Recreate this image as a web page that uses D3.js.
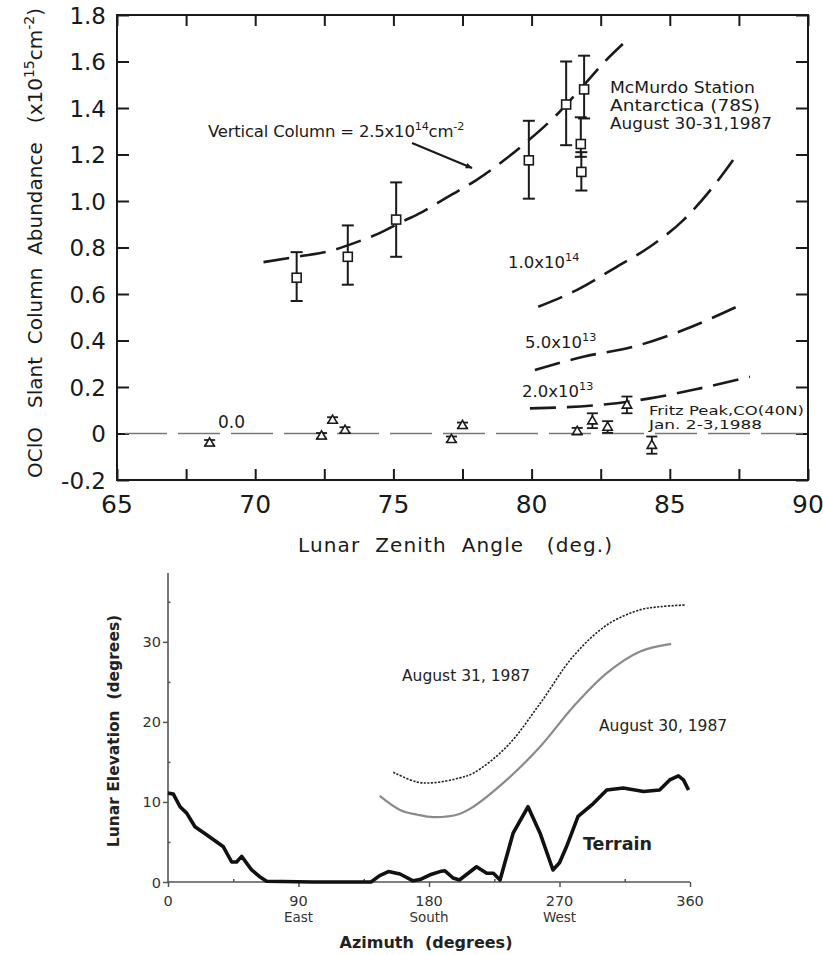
<!DOCTYPE html>
<html><head><meta charset="utf-8">
<script src="https://cdn.jsdelivr.net/npm/d3@7"></script>
<style>body{margin:0;background:#fff}svg{display:block}text{white-space:pre}</style>
</head><body>
<svg id="c" width="823" height="955"></svg>
<script>
// ---------- Top panel data ----------
const xTicksTop = [65,70,75,80,85,90];
const yTicksTop = [-0.2,0,0.2,0.4,0.6,0.8,1.0,1.2,1.4,1.6,1.8];
const yTickLabelsTop = ["-0.2","0","0.2","0.4","0.6","0.8","1.0","1.2","1.4","1.6","1.8"];
// McMurdo (squares)
const mcX  = [71.5,73.35,75.1,79.9,81.25,81.9,81.78,81.8];
const mcY  = [0.67,0.76,0.92,1.175,1.415,1.48,1.245,1.125];
const mcLo = [0.57,0.64,0.76,1.01,1.24,1.355,1.19,1.045];
const mcHi = [0.78,0.895,1.08,1.345,1.6,1.625,1.36,1.21];
// Fritz Peak (triangles)
const fpX  = [68.35,72.4,72.8,73.25,77.1,77.5,81.65,82.2,82.75,83.45,84.35];
const fpY  = [-0.04,-0.01,0.058,0.015,-0.025,0.035,0.01,0.055,0.028,0.123,-0.05];
const fpE  = [0.012,0.012,0.012,0.012,0.012,0.012,0.014,0.032,0.025,0.036,0.037];
// model curves
const vc25X = [70.3,71.5,72.7,73.6,74.5,75.3,76,77,78,79,79.9,80.9,81.9,82.7,83.3];
const vc25Y = [0.737,0.76,0.785,0.82,0.862,0.91,0.95,1.02,1.09,1.175,1.262,1.37,1.5,1.606,1.675];
const vc10X = [80.24,81.63,83.08,84.28,85.49,86.57,87.42];
const vc10Y = [0.545,0.617,0.717,0.803,0.918,1.062,1.198];
const vc5X  = [80.12,81.87,83.68,85.49,87.42];
const vc5Y  = [0.273,0.33,0.373,0.445,0.545];
const vc2X  = [79.94,82.47,84.28,86.09,87.9];
const vc2Y  = [0.108,0.123,0.151,0.194,0.244];
const vc0X  = [65,90];
const vc0Y  = [0,0];

// ---------- Bottom panel data ----------
const xTicksBot = [0,90,180,270,360];
const xDirBot = ["","East","South","West",""];
const yTicksBot = [0,10,20,30];
const terrainAz = [0,3.6,8.3,12.9,18.6,26.6,38.2,43.9,47.3,50.8,57.7,63,68,100,140,146,152,160,169,173.8,180.7,187.6,191,196.6,201,212.8,219.8,224.4,229,238,248.3,256.6,265.5,270,274.8,282.8,293.3,302.6,314,328,339,346,352,355.5,359];
const terrainEl = [11.1,11,9.4,8.6,6.9,5.9,4.4,2.5,2.5,3.2,1.5,0.7,0.1,0,0,0.8,1.3,1.0,0.15,0.3,0.9,1.3,1.4,0.5,0.25,1.9,1.1,1.1,0.25,6.1,9.4,6.1,1.5,2.4,4.4,8.2,9.8,11.5,11.75,11.3,11.5,12.75,13.25,12.75,11.5];
const aug30Az = [146,160,172,183,201,210.6,233.6,256.6,279.5,302.6,325.6,347];
const aug30El = [10.75,9.0,8.4,8.1,8.5,9.4,12.75,16.9,21.9,26.1,28.8,29.75];
const aug31Az = [155.4,171.5,183,201,210.6,233.6,256.6,279.5,302.6,325.6,340,356.6];
const aug31El = [13.7,12.5,12.4,13,13.6,16.9,22.3,28.2,32.1,34,34.4,34.6];

const svg = d3.select("#c");
const zip = (a,b)=>a.map((v,i)=>[v,b[i]]);

// ================= TOP PANEL =================
const FT = "DejaVu Sans, sans-serif";
const x1 = d3.scaleLinear().domain([65,90]).range([117,808]);
const y1 = d3.scaleLinear().domain([-0.2,1.8]).range([480,15]);
const g1 = svg.append("g");
const ink = "#1a1a1a";

g1.append("rect").attr("x",x1(65)).attr("y",y1(1.8)).attr("width",x1(90)-x1(65)).attr("height",y1(-0.2)-y1(1.8))
  .attr("fill","none").attr("stroke",ink).attr("stroke-width",2);

const xMinor = d3.range(65,90.01,2.5);
const yMinor = d3.range(-0.2,1.81,0.2);
g1.append("g").attr("transform",`translate(0,${y1(-0.2)})`)
  .call(d3.axisTop(x1).tickValues(xMinor).tickSize(11).tickFormat(""))
  .call(a=>{a.select(".domain").remove();a.selectAll("line").attr("stroke",ink).attr("stroke-width",2);});
g1.append("g").attr("transform",`translate(0,${y1(1.8)})`)
  .call(d3.axisBottom(x1).tickValues(xMinor).tickSize(11).tickFormat(""))
  .call(a=>{a.select(".domain").remove();a.selectAll("line").attr("stroke",ink).attr("stroke-width",2);});
g1.append("g").attr("transform",`translate(${x1(65)},0)`)
  .call(d3.axisRight(y1).tickValues(yMinor).tickSize(12).tickFormat(""))
  .call(a=>{a.select(".domain").remove();a.selectAll("line").attr("stroke",ink).attr("stroke-width",2);});
g1.append("g").attr("transform",`translate(${x1(90)},0)`)
  .call(d3.axisLeft(y1).tickValues(yMinor).tickSize(12).tickFormat(""))
  .call(a=>{a.select(".domain").remove();a.selectAll("line").attr("stroke",ink).attr("stroke-width",2);});

g1.append("g").selectAll("text").data(xTicksTop).join("text")
  .attr("x",d=>x1(d)).attr("y",513).attr("text-anchor","middle")
  .attr("font-family",FT).attr("font-size",25).attr("fill",ink).text(d=>d);
g1.append("g").selectAll("text").data(yTicksTop).join("text")
  .attr("x",106).attr("y",d=>y1(d)+8.5).attr("text-anchor","end")
  .attr("font-family",FT).attr("font-size",23).attr("fill",ink).text((d,i)=>yTickLabelsTop[i]);

g1.append("text").attr("x",455).attr("y",552).attr("text-anchor","middle")
  .attr("font-family",FT).attr("font-size",20).attr("fill",ink)
  .attr("textLength",314).attr("lengthAdjust","spacing")
  .text("Lunar  Zenith  Angle   (deg.)");
const yt = g1.append("text").attr("transform","translate(42,243) rotate(-90)").attr("text-anchor","middle")
  .attr("font-family",FT).attr("font-size",20).attr("fill",ink);
yt.append("tspan").text("OClO   Slant  Column  Abundance   (x10");
yt.append("tspan").attr("dy",-8).attr("font-size",14).text("15");
yt.append("tspan").attr("dy",8).text("cm");
yt.append("tspan").attr("dy",-8).attr("font-size",14).text("-2");
yt.append("tspan").attr("dy",8).text(")");

const line1 = d3.line().x(d=>x1(d[0])).y(d=>y1(d[1])).curve(d3.curveMonotoneX);
[[vc25X,vc25Y],[vc10X,vc10Y],[vc5X,vc5Y],[vc2X,vc2Y]].forEach(([a,b])=>{
  g1.append("path").attr("d",line1(zip(a,b))).attr("fill","none").attr("stroke",ink)
    .attr("stroke-width",2.6).attr("stroke-dasharray","26,11");
});
g1.append("path").attr("d",line1(zip(vc0X,vc0Y))).attr("fill","none").attr("stroke","#777")
  .attr("stroke-width",1.6).attr("stroke-dasharray","42,11").attr("stroke-dashoffset",-8);

const mc = mcX.map((x,i)=>({x,y:mcY[i],lo:mcLo[i],hi:mcHi[i]}));
const ge = g1.append("g").attr("stroke",ink).attr("stroke-width",2);
mc.forEach(d=>{
  ge.append("line").attr("x1",x1(d.x)).attr("x2",x1(d.x)).attr("y1",y1(d.lo)).attr("y2",y1(d.hi));
  [d.lo,d.hi].forEach(v=>ge.append("line").attr("x1",x1(d.x)-6).attr("x2",x1(d.x)+6).attr("y1",y1(v)).attr("y2",y1(v)));
});
g1.append("g").selectAll("rect").data(mc).join("rect")
  .attr("x",d=>x1(d.x)-4.5).attr("y",d=>y1(d.y)-4.5).attr("width",9).attr("height",9)
  .attr("fill","#fff").attr("stroke",ink).attr("stroke-width",1.6);

const fp = fpX.map((x,i)=>({x,y:fpY[i],e:fpE[i]}));
const gf = g1.append("g").attr("stroke",ink).attr("stroke-width",1.8);
fp.forEach(d=>{
  const cx=x1(d.x), lo=y1(d.y-d.e), hi=y1(d.y+d.e);
  gf.append("line").attr("x1",cx).attr("x2",cx).attr("y1",lo).attr("y2",hi);
  [lo,hi].forEach(v=>gf.append("line").attr("x1",cx-5.5).attr("x2",cx+5.5).attr("y1",v).attr("y2",v));
});
const tri = d3.symbol().type(d3.symbolTriangle).size(38);
g1.append("g").selectAll("path").data(fp).join("path")
  .attr("transform",d=>`translate(${x1(d.x)},${y1(d.y)+0.5})`).attr("d",tri)
  .attr("fill","#fff").attr("stroke",ink).attr("stroke-width",1.6);

function supLabel(g,x,y,base,sup,fs,rest){
  const t=g.append("text").attr("x",x).attr("y",y).attr("font-family",FT).attr("font-size",fs).attr("fill",ink);
  t.append("tspan").text(base);
  t.append("tspan").attr("dy",-fs*0.45).attr("font-size",fs*0.68).text(sup);
  if(rest){ t.append("tspan").attr("dy",fs*0.45).text(rest[0]);
            t.append("tspan").attr("dy",-fs*0.45).attr("font-size",fs*0.68).text(rest[1]); }
  return t;
}
supLabel(g1,208,137,"Vertical Column = 2.5x10","14",16.5,["cm","-2"]).attr("letter-spacing",-0.2);
supLabel(g1,508,268,"1.0x10","14",16.5);
supLabel(g1,525,348,"5.0x10","13",16.5);
supLabel(g1,522,397,"2.0x10","13",16.5);
g1.append("text").attr("x",218).attr("y",428).attr("font-family",FT).attr("font-size",17).attr("fill",ink).text("0.0");
["McMurdo Station","Antarctica (78S)","August 30-31,1987"].forEach((s,i)=>
  g1.append("text").attr("x",610).attr("y",93+i*18).attr("font-family",FT).attr("font-size",15.5)
    .attr("fill",ink).attr("textLength",[145,150,162][i]).attr("lengthAdjust","spacingAndGlyphs").text(s));
["Fritz Peak,CO(40N)","Jan. 2-3,1988"].forEach((s,i)=>
  g1.append("text").attr("x",649).attr("y",415+i*14).attr("font-family",FT).attr("font-size",12)
    .attr("fill",ink).attr("textLength",[155,113][i]).attr("lengthAdjust","spacingAndGlyphs").text(s));
svg.append("defs").append("marker").attr("id","ah").attr("viewBox","0 0 10 10").attr("refX",9).attr("refY",5)
  .attr("markerWidth",9).attr("markerHeight",7).attr("orient","auto").attr("markerUnits","userSpaceOnUse")
  .append("path").attr("d","M0,1 L10,5 L0,9 Z").attr("fill",ink);
g1.append("line").attr("x1",412).attr("y1",143).attr("x2",472).attr("y2",168)
  .attr("stroke",ink).attr("stroke-width",2).attr("marker-end","url(#ah)");

// ================= BOTTOM PANEL =================
const FB = "DejaVu Sans, sans-serif";
const gr = "#333";
const x2 = d3.scaleLinear().domain([0,360]).range([168,690]);
const y2 = d3.scaleLinear().domain([0,38.6]).range([882,573]);
const g2 = svg.append("g");

g2.append("line").attr("x1",x2(0)).attr("x2",x2(360)).attr("y1",y2(0)).attr("y2",y2(0)).attr("stroke","#555").attr("stroke-width",1.6);
g2.append("line").attr("x1",x2(0)).attr("x2",x2(0)).attr("y1",y2(0)).attr("y2",y2(38.6)).attr("stroke","#555").attr("stroke-width",1.6);
g2.append("g").attr("transform",`translate(0,${y2(0)})`)
  .call(d3.axisBottom(x2).tickValues(xTicksBot).tickSize(5).tickFormat(""))
  .call(a=>{a.select(".domain").remove();a.selectAll("line").attr("stroke","#555").attr("stroke-width",1.5);});
g2.append("g").attr("transform",`translate(0,${y2(0)})`)
  .call(d3.axisTop(x2).tickValues([45,135,225,315]).tickSize(3).tickFormat(""))
  .call(a=>{a.select(".domain").remove();a.selectAll("line").attr("stroke","#555").attr("stroke-width",1.5);});
g2.append("g").attr("transform",`translate(${x2(0)},0)`)
  .call(d3.axisLeft(y2).tickValues(yTicksBot).tickSize(5).tickFormat(""))
  .call(a=>{a.select(".domain").remove();a.selectAll("line").attr("stroke","#555").attr("stroke-width",1.5);});
g2.append("g").attr("transform",`translate(${x2(0)},0)`)
  .call(d3.axisRight(y2).tickValues([5,15,25,35]).tickSize(2.5).tickFormat(""))
  .call(a=>{a.select(".domain").remove();a.selectAll("line").attr("stroke","#555").attr("stroke-width",1.5);});
g2.append("g").selectAll("text").data(xTicksBot).join("text")
  .attr("x",d=>x2(d)).attr("y",906).attr("text-anchor","middle")
  .attr("font-family",FB).attr("font-size",14.5).attr("fill",gr).text(d=>d);
g2.append("g").selectAll("text").data(xDirBot).join("text")
  .attr("x",(d,i)=>x2(xTicksBot[i])).attr("y",922).attr("text-anchor","middle")
  .attr("font-family",FB).attr("font-size",13.5).attr("fill",gr).text(d=>d);
g2.append("g").selectAll("text").data(yTicksBot).join("text")
  .attr("x",161).attr("y",d=>y2(d)+5.5).attr("text-anchor","end")
  .attr("font-family",FB).attr("font-size",14.5).attr("fill",gr).text(d=>d);
g2.append("text").attr("x",426).attr("y",948).attr("text-anchor","middle").attr("font-family",FB)
  .attr("font-weight","bold").attr("font-size",16).attr("fill","#222").text("Azimuth  (degrees)");
g2.append("text").attr("transform","translate(119,731) rotate(-90)").attr("text-anchor","middle").attr("font-family",FB)
  .attr("font-weight","bold").attr("font-size",15.5).attr("fill","#222").text("Lunar Elevation  (degrees)");

const line2 = d3.line().x(d=>x2(d[0])).y(d=>y2(d[1])).curve(d3.curveCatmullRom.alpha(0.5));
g2.append("path").attr("d",line2(zip(aug30Az,aug30El))).attr("fill","none").attr("stroke","#8a8a8a").attr("stroke-width",2.2);
g2.append("path").attr("d",line2(zip(aug31Az,aug31El))).attr("fill","none").attr("stroke","#222")
  .attr("stroke-width",1.6).attr("stroke-dasharray","2.2,1.4");
g2.append("path").attr("d",d3.line().x(d=>x2(d[0])).y(d=>y2(d[1]))(zip(terrainAz,terrainEl)))
  .attr("fill","none").attr("stroke","#111").attr("stroke-width",3.6).attr("stroke-linejoin","round");

g2.append("text").attr("x",402).attr("y",681).attr("font-family",FB).attr("font-size",15.5).attr("fill","#222").text("August 31, 1987");
g2.append("text").attr("x",599).attr("y",731).attr("font-family",FB).attr("font-size",15.5).attr("fill","#222").text("August 30, 1987");
g2.append("text").attr("x",583).attr("y",850).attr("font-family",FB).attr("font-weight","bold").attr("font-size",17.5).attr("fill","#222").text("Terrain");
</script>
</body></html>
